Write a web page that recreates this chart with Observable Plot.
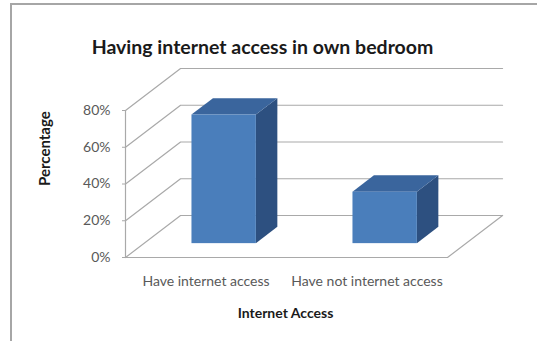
<!DOCTYPE html>
<html>
<head>
<meta charset="utf-8">
<script src="https://cdn.jsdelivr.net/npm/d3@7"></script>
<script src="https://cdn.jsdelivr.net/npm/@observablehq/plot@0.6"></script>
<style>
  html, body { margin: 0; padding: 0; background: #fff; }
  #wrap { position: relative; width: 537px; height: 341px; overflow: hidden; }
  #border { position: absolute; left: 10px; top: 3px; width: 540px; height: 360px;
            border-top: 2px solid #a6a6a6; border-left: 2px solid #a6a6a6; box-sizing: border-box; }
  #wrap svg { position: absolute; left: 0; top: 0; }
</style>
</head>
<body>
<div id="wrap"><div id="border"></div></div>
<script>
// ---- data ----
const title = "Having internet access in own bedroom";
const categories = ["Have internet access", "Have not internet access"];
const values = [70, 28];
const yTicks = [0, 20, 40, 60, 80];
const xLabel = "Internet Access";
const yLabel = "Percentage";

// ---- oblique 3D projection parameters (in data units) ----
const DX = 0.342;   // depth shift along x (category units)
const DY = 22.86;   // depth shift along y (percentage units)
const z0 = 0.33, z1 = 0.72; // bar front / back depth
const hw = 0.2;     // bar half width

const n = categories.length;
// grid: left wall diagonals + back wall horizontals
const grid = yTicks.flatMap(v => [
  {g: v, x: 0, y: v},
  {g: v, x: DX, y: v + DY},
  {g: v, x: n + DX, y: v + DY}
]);
const floor = [
  {g: "f", x: 0, y: 0}, {g: "f", x: n, y: 0}, {g: "f", x: n + DX, y: DY}
];

const bars = categories.map((c, i) => ({i, c, v: values[i]}));
const fronts = bars.map(b => ({
  x1: b.i + 0.5 - hw + z0 * DX, x2: b.i + 0.5 + hw + z0 * DX,
  y1: z0 * DY, y2: b.v + z0 * DY
}));
const tops = bars.flatMap(b => [
  {k: b.i, y: b.v + z0 * DY, x1: b.i + 0.5 - hw + z0 * DX, x2: b.i + 0.5 + hw + z0 * DX},
  {k: b.i, y: b.v + z1 * DY, x1: b.i + 0.5 - hw + z1 * DX, x2: b.i + 0.5 + hw + z1 * DX}
]);
const sides = bars.flatMap(b => [
  {k: b.i, x: b.i + 0.5 + hw + z0 * DX, y1: z0 * DY, y2: b.v + z0 * DY},
  {k: b.i, x: b.i + 0.5 + hw + z1 * DX, y1: z1 * DY, y2: b.v + z1 * DY}
]);

const chart = Plot.plot({
  width: 537,
  height: 341,
  marginLeft: 125,
  marginRight: 90,
  marginTop: 110,
  marginBottom: 84,
  x: {type: "linear", domain: [0, n]},
  y: {domain: [0, 80]},
  style: {fontFamily: "Lato, 'Open Sans', sans-serif", background: "transparent", overflow: "visible"},
  marks: [
    Plot.line(grid, {x: "x", y: "y", z: "g", stroke: "#a9a9a9", strokeWidth: 1.2}),
    Plot.line(floor, {x: "x", y: "y", z: "g", stroke: "#a9a9a9", strokeWidth: 1.2}),
    Plot.ruleX([0], {y1: 0, y2: 80, stroke: "#a9a9a9", strokeWidth: 1.2}),
    Plot.areaY(sides, {x: "x", y1: "y1", y2: "y2", z: "k", fill: "#2d5080", curve: "linear"}),
    Plot.areaX(tops, {y: "y", x1: "x1", x2: "x2", z: "k", fill: "#3a659d", curve: "linear"}),
    Plot.rect(fronts, {x1: "x1", x2: "x2", y1: "y1", y2: "y2", fill: "#4a7ebb"}),
    Plot.axisY({ticks: yTicks, tickFormat: d => d + "%", tickSize: 3, tickPadding: 12,
      label: null, fontSize: 14, color: "#595959", stroke: "#a9a9a9"}),
    Plot.axisX({ticks: categories.map((c, i) => i + 0.5), tickFormat: d => categories[Math.floor(d)],
      tickSize: 0, tickPadding: 19, label: null, fontSize: 14, color: "#595959"}),
    Plot.text([title], {frameAnchor: "top", dx: -24, dy: -70, fontSize: 19.5, fontWeight: "bold",
      fill: "#1a1a1a"}),
    Plot.text([xLabel], {frameAnchor: "bottom", dx: -1, dy: 60, fontSize: 14, fontWeight: "bold", fill: "#1a1a1a"}),
    Plot.text([yLabel], {frameAnchor: "left", dx: -80, dy: 2, rotate: -90, fontSize: 15, fontWeight: "bold",
      fill: "#1a1a1a"})
  ]
});
document.getElementById("wrap").appendChild(chart);
</script>
</body>
</html>
